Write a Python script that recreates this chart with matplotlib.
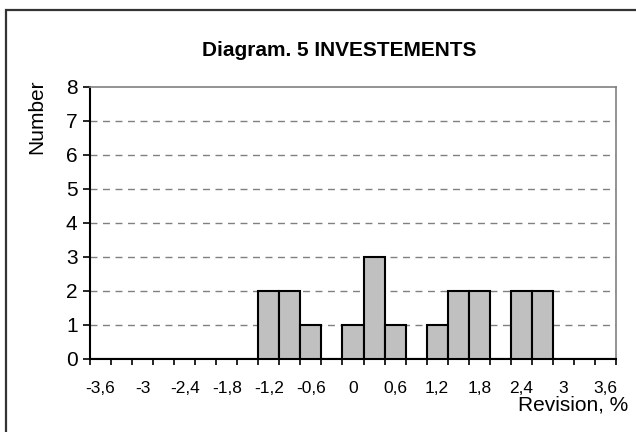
import matplotlib
matplotlib.use("Agg")
import matplotlib.pyplot as plt
from matplotlib.patches import Rectangle

# --- data
bin_centers = [-3.6, -3.3, -3.0, -2.7, -2.4, -2.1, -1.8, -1.5, -1.2, -0.9,
               -0.6, -0.3, 0.0, 0.3, 0.6, 0.9, 1.2, 1.5, 1.8, 2.1,
               2.4, 2.7, 3.0, 3.3, 3.6]
counts = [0, 0, 0, 0, 0, 0, 0, 0, 2, 2,
          1, 0, 1, 3, 1, 0, 1, 2, 2, 0,
          2, 2, 0, 0, 0]
x_labels = [-3.6, -3.0, -2.4, -1.8, -1.2, -0.6, 0.0, 0.6, 1.2, 1.8, 2.4, 3.0, 3.6]
y_ticks = [0, 1, 2, 3, 4, 5, 6, 7, 8]
bin_width = 0.3

plt.rcParams["font.family"] = ["Liberation Sans", "DejaVu Sans"]

fig = plt.figure(figsize=(6.36, 4.32), dpi=100)
ax = fig.add_axes([90 / 636, 1 - 359 / 432, (616 - 90) / 636, (359 - 87) / 432])

# outer chart border (only left/top visible in the reference)
fig.patches.append(Rectangle((6 / 636, -0.05), 1.2, 1 - 10 / 432 + 0.05,
                             transform=fig.transFigure, fill=False,
                             edgecolor="#333333", lw=1.6))

ax.bar(bin_centers, counts, width=bin_width, color="#c0c0c0",
       edgecolor="black", linewidth=1.5, zorder=3)

lo = bin_centers[0] - bin_width / 2
hi = bin_centers[-1] + bin_width / 2
ax.set_xlim(lo, hi)
ax.set_ylim(0, 8)

for v in y_ticks[1:-1]:
    ax.axhline(v, color="#808080", lw=1.0, ls=(0, (5, 4)), zorder=1)

def fmt(v):
    s = ("%.1f" % v).rstrip("0").rstrip(".")
    if s == "-0":
        s = "0"
    return s.replace(".", ",")

ax.set_xticks(x_labels)
ax.set_xticklabels([fmt(v) for v in x_labels], fontsize=12.5)
ax.set_xticks([lo + i * bin_width for i in range(len(bin_centers) + 1)], minor=True)
ax.tick_params(axis="x", which="major", length=0, pad=16)
ax.tick_params(axis="x", which="minor", length=4, width=1.2, direction="out")

ax.set_yticks(y_ticks)
ax.set_yticklabels([str(v) for v in y_ticks], fontsize=15)
ax.tick_params(axis="y", length=5, width=1.2, direction="out", pad=4)

ax.spines["left"].set_color("black")
ax.spines["left"].set_linewidth(1.5)
ax.spines["bottom"].set_color("black")
ax.spines["bottom"].set_linewidth(1.5)
ax.spines["top"].set_color("#808080")
ax.spines["right"].set_color("#808080")
ax.spines["top"].set_linewidth(1.2)
ax.spines["right"].set_linewidth(1.2)

fig.text(339 / 636, 1 - 51 / 432, "Diagram. 5 INVESTEMENTS",
         ha="center", va="center", fontsize=15, fontweight="bold")
fig.text(628 / 636, 1 - 405 / 432, "Revision, %", ha="right", va="center",
         fontsize=15)
fig.text(37 / 636, 1 - 117 / 432, "Number", ha="center", va="center",
         rotation=90, fontsize=15)

fig.savefig("out.png", dpi=100)
